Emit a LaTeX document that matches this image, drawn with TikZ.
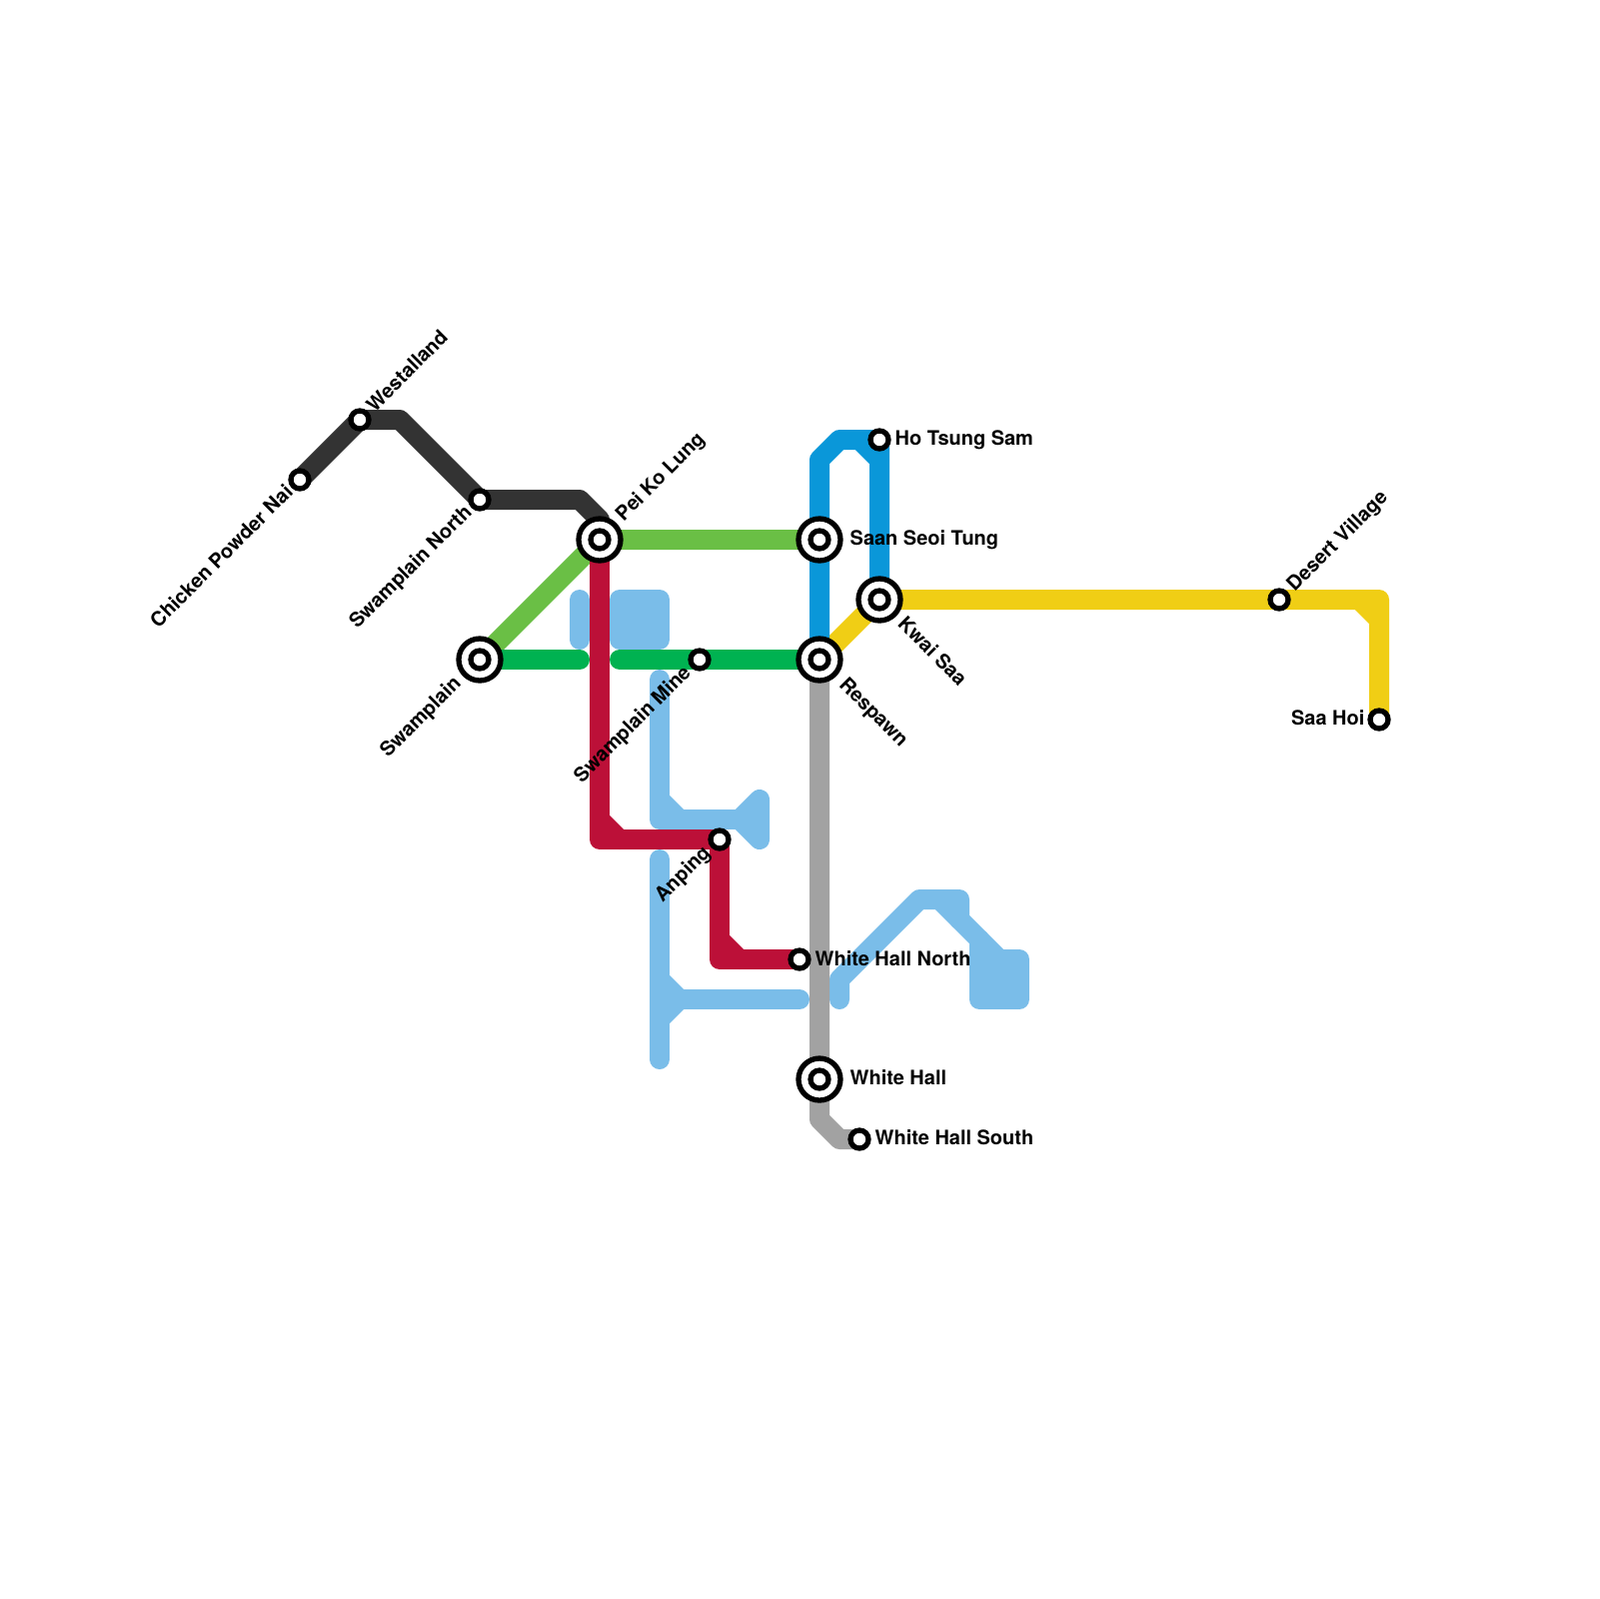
\documentclass[tikz,border=0pt]{standalone}
\usepackage{fontspec}
\setmainfont{TeX Gyre Heros}
\usetikzlibrary{backgrounds}
\definecolor{coalline}{HTML}{333333}
\definecolor{limeline}{HTML}{6ABF45}
\definecolor{emeraldline}{HTML}{00B251}
\definecolor{skyline}{HTML}{7ABDE9}
\definecolor{azureline}{HTML}{0A97D9}
\definecolor{goldline}{HTML}{F0CE15}
\definecolor{greyline}{HTML}{A2A2A2}
\definecolor{crimsonline}{HTML}{BC1038}

\begin{document}
\begin{tikzpicture}[x=0.1mm, y=-0.1mm,
    metro/.style={line width=2mm, line cap=round, line join=round},
    halt/.style={circle, draw=black, fill=white, line width=.53mm, minimum size=1.8mm, inner sep=0pt},
    hub/.style={halt, minimum size=4.2mm, path picture={\draw[line width=.53mm] (path picture bounding box.center) circle (.9mm);}},
    lbl/.style={font=\fontsize{5.68}{6}\selectfont\bfseries, inner sep=0pt}]
\useasboundingbox (0,0) rectangle (1600,1600);

% Stations
\node[halt] (chicken) at (300,480) {};
\node[halt] (westalland) at (360,420) {};
\node[halt] (swampnorth) at (480,500) {};
\node[hub] (peikolung) at (600,540) {};
\node[hub] (swamplain) at (480,660) {};
\node[halt] (swampmine) at (700,660) {};
\node[halt] (anping) at (720,840) {};
\node[halt] (whnorth) at (800,960) {};
\node[hub] (whitehall) at (820,1080) {};
\node[halt] (whsouth) at (860,1140) {};
\node[hub] (respawn) at (820,660) {};
\node[hub] (saanseoi) at (820,540) {};
\node[hub] (kwaisaa) at (880,600) {};
\node[halt] (hotsung) at (880,440) {};
\node[halt] (desert) at (1280,600) {};
\node[halt] (saahoi) at (1380,720) {};

\begin{scope}[on background layer]
% Dark line
\draw[metro, coalline] (chicken.center) -- (westalland.center) -- (400,420) -- (swampnorth.center) -- (580,500) -- (600,520) -- (peikolung.center);

% Green lines
\draw[metro, limeline] (swamplain.center) -- (peikolung.center) -- (saanseoi.center);
\draw[metro, emeraldline] (swamplain.center) -- (580,660);
\draw[metro, emeraldline] (620,660) -- (swampmine.center) -- (respawn.center);

% Unfinished sky blue pieces
\draw[metro, skyline] (580,600) -- (580,640);
\draw[metro, skyline, fill=skyline] (620,600) rectangle (660,640);
\draw[metro, skyline] (660,680) -- (660,820) -- (740,820);
\draw[metro, skyline] (660,800) -- (680,820);
\draw[metro, skyline, fill=skyline] (740,820) -- (760,800) -- (760,840) -- cycle;
\draw[metro, skyline] (660,860) -- (660,1060);
\draw[metro, skyline] (660,1000) -- (800,1000);
\draw[metro, skyline] (660,980) -- (680,1000) -- (660,1020);
\draw[metro, skyline] (840,1000) -- (840,980) -- (920,900) -- (960,900) -- (960,920);
\draw[metro, skyline] (940,900) -- (1000,960);
\draw[metro, skyline] (980,940) -- (980,960);
\draw[metro, skyline, fill=skyline] (980,960) rectangle (1020,1000);

% Yellow line
\draw[metro, goldline] (respawn.center) -- (kwaisaa.center) -- (desert.center) -- (1380,600) -- (saahoi.center);
\draw[metro, goldline] (1360,600) -- (1380,620);

% Blue line
\draw[metro, azureline] (respawn.center) -- (saanseoi.center) -- (820,460) -- (840,440) -- (hotsung.center) -- (kwaisaa.center);
\draw[metro, azureline] (860,440) -- (880,460);

% Grey line
\draw[metro, greyline] (respawn.center) -- (whitehall.center) -- (820,1120) -- (840,1140) -- (whsouth.center);

% Red line
\draw[metro, crimsonline] (peikolung.center) -- (600,840) -- (anping.center) -- (720,960) -- (whnorth.center);
\draw[metro, crimsonline] (600,820) -- (620,840);
\draw[metro, crimsonline] (720,940) -- (740,960);
\end{scope}

% Labels
\node[lbl, rotate=45, anchor=east] (lchicken) at (289.5,488) {Chicken Powder Nai};
\node[lbl, rotate=45, anchor=west] (lwestalland) at (369.5,408.5) {Westalland};
\node[lbl, rotate=45, anchor=east] (lswampnorth) at (470,509.5) {Swamplain North};
\node[lbl, rotate=45, anchor=west] (lpeikolung) at (620,519) {Pei Ko Lung};
\node[lbl, rotate=45, anchor=east] (lswamplain) at (459,681) {Swamplain};
\node[lbl, rotate=45, anchor=east] (lswampmine) at (689,670) {Swamplain Mine};
\node[lbl, rotate=45, anchor=east] (lanping) at (708.5,850.5) {Anping};
\node[lbl, rotate=-45, anchor=west] (lrespawn) at (842,682) {Respawn};
\node[lbl, rotate=-45, anchor=west] (lkwaisaa) at (902,620) {Kwai Saa};
\node[lbl, rotate=45, anchor=west] (ldesert) at (1291.5,589.5) {Desert Village};
\node[lbl, anchor=west] (lhotsung) at (895,440) {Ho Tsung Sam};
\node[lbl, anchor=west] (lsaanseoi) at (850,540) {Saan Seoi Tung};
\node[lbl, anchor=west] (lwhnorth) at (815,959) {White Hall North};
\node[lbl, anchor=west] (lwhitehall) at (850,1078.5) {White Hall};
\node[lbl, anchor=west] (lwhsouth) at (875,1138) {White Hall South};
\node[lbl, anchor=east] (lsaahoi) at (1366,718) {Saa Hoi};
\end{tikzpicture}
\end{document}
